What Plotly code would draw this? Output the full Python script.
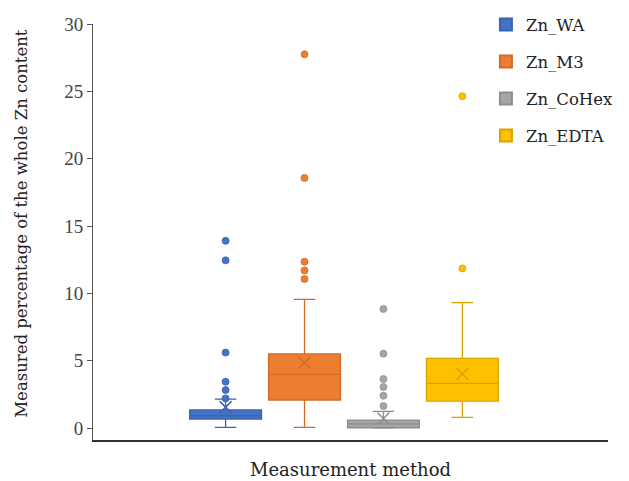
import plotly.graph_objects as go

# ---- data ----
methods = ["Zn_WA", "Zn_M3", "Zn_CoHex", "Zn_EDTA"]
positions = [1, 2, 3, 4]
q1 = [0.67, 2.08, 0.02, 2.00]
median = [0.91, 3.99, 0.30, 3.32]
q3 = [1.34, 5.50, 0.59, 5.17]
lower_fence = [0.05, 0.05, 0.00, 0.79]
upper_fence = [2.15, 9.55, 1.24, 9.31]
means = [1.55, 4.85, 0.70, 4.01]
outliers = [
    [13.9, 12.45, 5.6, 3.44, 2.82, 2.2],
    [27.75, 18.57, 12.35, 11.7, 11.07],
    [8.84, 5.52, 3.64, 3.05, 2.4, 1.63],
    [24.64, 11.85],
]
y_ticks = [0, 5, 10, 15, 20, 25, 30]

fill_colors = ["#4472C4", "#ED7D31", "#A5A5A5", "#FFC000"]
line_colors = ["#3A63B0", "#D56A26", "#8E8E8E", "#D9A300"]

TEXT_FONT = "DejaVu Serif"
TICK_FONT = "Liberation Serif"

fig = go.Figure()
for i, m in enumerate(methods):
    fig.add_trace(go.Box(
        x=[positions[i]], q1=[q1[i]], median=[median[i]], q3=[q3[i]],
        lowerfence=[lower_fence[i]], upperfence=[upper_fence[i]],
        boxpoints=False, width=0.91, whiskerwidth=0.3,
        fillcolor=fill_colors[i], line=dict(color=line_colors[i], width=1.3),
        showlegend=False, hoverinfo="skip",
    ))
    fig.add_trace(go.Scatter(
        x=[positions[i]] * len(outliers[i]), y=outliers[i], mode="markers",
        marker=dict(symbol="circle", size=7, color=fill_colors[i],
                    line=dict(color=line_colors[i], width=0.8)),
        showlegend=False, hoverinfo="skip",
    ))
    fig.add_trace(go.Scatter(
        x=[positions[i]], y=[means[i]], mode="markers",
        marker=dict(symbol="x-thin-open", size=12, color=line_colors[i],
                    line=dict(color=line_colors[i], width=1.5)),
        showlegend=False, hoverinfo="skip",
    ))
    # legend proxy
    fig.add_trace(go.Scatter(
        x=[None], y=[None], mode="markers", name=m, legendgroup=m,
        marker=dict(symbol="square", size=14, color=fill_colors[i],
                    line=dict(color=line_colors[i], width=1)),
    ))

fig.update_layout(
    width=629, height=481,
    margin=dict(l=93, r=21, t=24, b=41, autoexpand=False),
    paper_bgcolor="white", plot_bgcolor="white",
    font=dict(family=TEXT_FONT, size=17, color="#333333"),
    showlegend=True,
    legend=dict(x=0.763, y=1.04, xanchor="left", yanchor="top",
                font=dict(family=TEXT_FONT, size=16.5, color="#222222"),
                tracegroupgap=12.5, itemsizing="constant",
                bgcolor="rgba(0,0,0,0)"),
    xaxis=dict(range=[-0.68, 5.845], showticklabels=False, ticks="",
               showgrid=False, zeroline=False, showline=True,
               linecolor="#333333", linewidth=1.5),
    yaxis=dict(range=[-0.89, 30], tickvals=y_ticks, ticks="outside", ticklen=5,
               tickcolor="#555555", showgrid=False, zeroline=False,
               showline=True, linecolor="#555555", linewidth=1,
               tickfont=dict(family=TICK_FONT, size=19, color="#444444")),
    annotations=[
        dict(text="Measurement method", xref="paper", yref="paper",
             x=0.5, y=-0.072, xanchor="center", yanchor="middle",
             showarrow=False, font=dict(family=TEXT_FONT, size=18, color="#222222")),
        dict(text="Measured percentage of the whole Zn content", xref="paper",
             yref="paper", x=-0.138, y=0.522, xanchor="center", yanchor="middle",
             textangle=-90, showarrow=False,
             font=dict(family=TEXT_FONT, size=16.5, color="#222222")),
    ],
)

fig.write_html("out.html",
               config={"displayModeBar": False},
               post_script="document.body.style.margin='0px';document.body.style.overflow='hidden';")
